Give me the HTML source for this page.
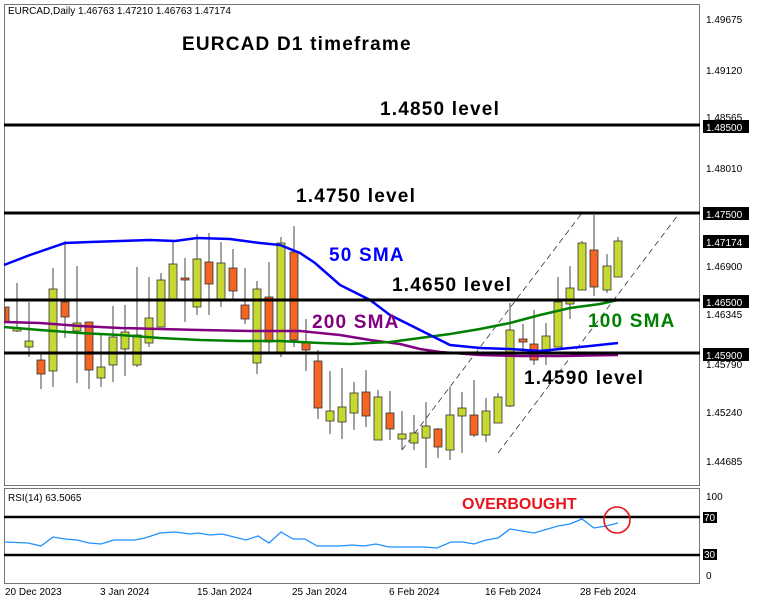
<!DOCTYPE html>
<html><head><meta charset="utf-8"><style>
html,body{margin:0;padding:0;background:#fff;}
svg{display:block;font-family:"Liberation Sans",sans-serif;}
</style></head><body>
<svg width="758" height="606" viewBox="0 0 758 606" xmlns="http://www.w3.org/2000/svg">
<rect x="0" y="0" width="758" height="606" fill="#fff"/>
<rect x="4.5" y="4.5" width="695" height="481" fill="none" stroke="#777" stroke-width="1"/>
<rect x="4.5" y="488.5" width="695" height="95" fill="none" stroke="#777" stroke-width="1"/>
<text x="8" y="14" font-size="10" fill="#000">EURCAD,Daily  1.46763 1.47210 1.46763 1.47174</text>

<g stroke="#333" stroke-width="0.8" stroke-dasharray="6,4" fill="none">
<line x1="402" y1="450" x2="582" y2="213"/>
<line x1="498" y1="453" x2="678" y2="215"/>
</g>

<g stroke="#444" stroke-width="1">
<line x1="17" y1="283" x2="17" y2="332"/><line x1="29" y1="302" x2="29" y2="357"/>
<line x1="41" y1="353" x2="41" y2="389"/><line x1="53" y1="268" x2="53" y2="387"/>
<line x1="65" y1="241" x2="65" y2="338"/><line x1="77" y1="266" x2="77" y2="383"/>
<line x1="89" y1="322" x2="89" y2="389"/><line x1="101" y1="335" x2="101" y2="387"/>
<line x1="113" y1="306" x2="113" y2="382"/><line x1="125" y1="305" x2="125" y2="376"/>
<line x1="137" y1="267" x2="137" y2="367"/><line x1="149" y1="277" x2="149" y2="347"/>
<line x1="161" y1="273" x2="161" y2="327"/><line x1="173" y1="240" x2="173" y2="299"/>
<line x1="185" y1="258" x2="185" y2="322"/><line x1="197" y1="234" x2="197" y2="315"/>
<line x1="209" y1="233" x2="209" y2="315"/><line x1="221" y1="242" x2="221" y2="307"/>
<line x1="233" y1="249" x2="233" y2="299"/><line x1="245" y1="268" x2="245" y2="324"/>
<line x1="257" y1="281" x2="257" y2="374"/><line x1="269" y1="262" x2="269" y2="352"/>
<line x1="281" y1="237" x2="281" y2="357"/><line x1="294" y1="226" x2="294" y2="347"/>
<line x1="306" y1="319" x2="306" y2="371"/><line x1="318" y1="350" x2="318" y2="419"/>
<line x1="330" y1="371" x2="330" y2="434"/><line x1="342" y1="368" x2="342" y2="439"/>
<line x1="354" y1="382" x2="354" y2="430"/><line x1="366" y1="370" x2="366" y2="427"/>
<line x1="378" y1="390" x2="378" y2="440"/><line x1="390" y1="391" x2="390" y2="440"/>
<line x1="402" y1="411" x2="402" y2="450"/><line x1="414" y1="415" x2="414" y2="450"/>
<line x1="426" y1="402" x2="426" y2="468"/><line x1="438" y1="428" x2="438" y2="458"/>
<line x1="450" y1="387" x2="450" y2="460"/><line x1="462" y1="392" x2="462" y2="453"/>
<line x1="474" y1="380" x2="474" y2="437"/><line x1="486" y1="398" x2="486" y2="442"/>
<line x1="498" y1="393" x2="498" y2="423"/><line x1="510" y1="303" x2="510" y2="407"/>
<line x1="523" y1="324" x2="523" y2="352"/><line x1="534" y1="310" x2="534" y2="365"/>
<line x1="546" y1="323" x2="546" y2="365"/><line x1="558" y1="277" x2="558" y2="347"/>
<line x1="570" y1="266" x2="570" y2="319"/><line x1="582" y1="241" x2="582" y2="290"/>
<line x1="594" y1="215" x2="594" y2="296"/><line x1="607" y1="254" x2="607" y2="293"/>
<line x1="618" y1="237" x2="618" y2="277"/>
</g>
<g stroke="#333" stroke-width="0.8">
<g fill="#f26522">
<rect x="5" y="307" width="4" height="15"/>
<rect x="37" y="360" width="8" height="14"/><rect x="61" y="302" width="8" height="15"/>
<rect x="85" y="322" width="8" height="48"/><rect x="181" y="278" width="8" height="2"/>
<rect x="205" y="262" width="8" height="22"/><rect x="229" y="268" width="8" height="23"/>
<rect x="241" y="305" width="8" height="14"/><rect x="265" y="297" width="8" height="45"/>
<rect x="290" y="252" width="8" height="88"/><rect x="302" y="342" width="8" height="8"/>
<rect x="314" y="361" width="8" height="47"/><rect x="362" y="392" width="8" height="24"/>
<rect x="386" y="413" width="8" height="16"/><rect x="434" y="429" width="8" height="18"/>
<rect x="470" y="415" width="8" height="20"/><rect x="519" y="339" width="8" height="3"/>
<rect x="530" y="344" width="8" height="16"/><rect x="590" y="250" width="8" height="37"/>
</g>
<g fill="#c8d832">
<rect x="13" y="328" width="8" height="3"/><rect x="25" y="341" width="8" height="6"/>
<rect x="49" y="289" width="8" height="82"/><rect x="73" y="323" width="8" height="8"/>
<rect x="97" y="367" width="8" height="11"/><rect x="109" y="337" width="8" height="28"/>
<rect x="121" y="332" width="8" height="17"/><rect x="133" y="335" width="8" height="30"/>
<rect x="145" y="318" width="8" height="25"/><rect x="157" y="280" width="8" height="47"/>
<rect x="169" y="264" width="8" height="35"/><rect x="193" y="259" width="8" height="48"/>
<rect x="217" y="263" width="8" height="36"/><rect x="253" y="289" width="8" height="74"/>
<rect x="277" y="243" width="8" height="109"/><rect x="326" y="411" width="8" height="10"/>
<rect x="338" y="407" width="8" height="15"/><rect x="350" y="393" width="8" height="20"/>
<rect x="374" y="397" width="8" height="43"/><rect x="398" y="434" width="8" height="5"/>
<rect x="410" y="433" width="8" height="10"/><rect x="422" y="426" width="8" height="12"/>
<rect x="446" y="415" width="8" height="35"/><rect x="458" y="408" width="8" height="8"/>
<rect x="482" y="411" width="8" height="24"/><rect x="494" y="397" width="8" height="26"/>
<rect x="506" y="330" width="8" height="76"/><rect x="542" y="336" width="8" height="16"/>
<rect x="554" y="302" width="8" height="45"/><rect x="566" y="288" width="8" height="16"/>
<rect x="578" y="243" width="8" height="47"/><rect x="603" y="266" width="8" height="24"/>
<rect x="614" y="241" width="8" height="36"/>
</g>
</g>

<polyline fill="none" stroke="#800080" stroke-width="2.5" points="4,322 40,323 80,326 120,328 160,329 200,330 250,331 300,331 340,335 370,340 400,344 420,349 440,352 480,355 520,356 560,356 618,355"/>
<polyline fill="none" stroke="#008000" stroke-width="2.5" points="4,327 40,330 80,333 120,335 160,338 200,340 240,341 280,341 320,343 350,344 390,342 420,338 450,334 480,329 510,323 540,315 570,308 600,304 618,300"/>
<polyline fill="none" stroke="#0000ff" stroke-width="2.5" points="4,265 30,255 65,243 90,242 120,241 150,240 175,241 197,238 230,239 260,243 280,245 300,253 315,263 340,285 370,300 390,315 420,330 450,345 480,348 510,349 540,351 560,349 590,346 618,343"/>

<g stroke="#000" stroke-width="3">
<line x1="4" y1="125" x2="700" y2="125"/>
<line x1="4" y1="213" x2="700" y2="213"/>
<line x1="4" y1="300" x2="700" y2="300"/>
<line x1="4" y1="353" x2="700" y2="353"/>
</g>

<g font-weight="bold" font-size="19" fill="#000" letter-spacing="1.2">
<text x="182" y="50">EURCAD D1 timeframe</text>
<text x="380" y="115">1.4850 level</text>
<text x="296" y="202">1.4750 level</text>
<text x="392" y="291">1.4650 level</text>
<text x="524" y="384">1.4590 level</text>
<text x="329" y="261" fill="#0000ff">50 SMA</text>
<text x="312" y="328" fill="#800080">200 SMA</text>
<text x="588" y="327" fill="#008000">100 SMA</text>
</g>

<g font-size="10" fill="#000">
<text x="706" y="23">1.49675</text>
<text x="706" y="74">1.49120</text>
<text x="706" y="121">1.48565</text>
<text x="706" y="172">1.48010</text>
<text x="706" y="270">1.46900</text>
<text x="706" y="318">1.46345</text>
<text x="706" y="368">1.45790</text>
<text x="706" y="416">1.45240</text>
<text x="706" y="465">1.44685</text>
</g>
<g>
<rect x="703" y="120" width="46" height="13" fill="#000"/><text x="706" y="131" font-size="10" fill="#fff">1.48500</text>
<rect x="703" y="207" width="46" height="13" fill="#000"/><text x="706" y="218" font-size="10" fill="#fff">1.47500</text>
<rect x="703" y="235" width="46" height="13" fill="#000"/><text x="706" y="246" font-size="10" fill="#fff">1.47174</text>
<rect x="703" y="295" width="46" height="13" fill="#000"/><text x="706" y="306" font-size="10" fill="#fff">1.46500</text>
<rect x="703" y="348" width="46" height="13" fill="#000"/><text x="706" y="359" font-size="10" fill="#fff">1.45900</text>
</g>

<text x="8" y="501" font-size="10" fill="#000">RSI(14) 63.5065</text>
<line x1="4" y1="517" x2="700" y2="517" stroke="#000" stroke-width="2.5"/>
<line x1="4" y1="555" x2="700" y2="555" stroke="#000" stroke-width="2.5"/>
<polyline fill="none" stroke="#1e90ff" stroke-width="1.3" points="5,542 28,543 41,546 53,537 65,539 77,540 89,543 101,544 114,540 135,540 145,538 160,533 175,532 190,534 198,533 210,535 222,534 234,537 246,540 258,536 269,543 281,532 293,539 305,539 317,546 340,546 352,545 364,546 376,544 389,547 423,547 437,548 451,542 463,542 474,544 486,540 498,538 510,529 522,531 534,533 558,526 570,524 582,519 594,528 606,526 618,523"/>
<text x="462" y="509" font-size="16" font-weight="bold" fill="#e8141c">OVERBOUGHT</text>
<circle cx="617" cy="520" r="13" fill="none" stroke="#e8141c" stroke-width="1.6"/>
<g font-size="10" fill="#000">
<text x="706" y="500">100</text>
<text x="706" y="579">0</text>
</g>
<rect x="703" y="512" width="14" height="11" fill="#000"/><text x="704" y="521" font-size="10" fill="#fff">70</text>
<rect x="703" y="549" width="14" height="11" fill="#000"/><text x="704" y="558" font-size="10" fill="#fff">30</text>

<g font-size="10" fill="#000">
<text x="5" y="595">20 Dec 2023</text>
<text x="100" y="595">3 Jan 2024</text>
<text x="197" y="595">15 Jan 2024</text>
<text x="292" y="595">25 Jan 2024</text>
<text x="389" y="595">6 Feb 2024</text>
<text x="485" y="595">16 Feb 2024</text>
<text x="580" y="595">28 Feb 2024</text>
</g>
</svg>
</body></html>
